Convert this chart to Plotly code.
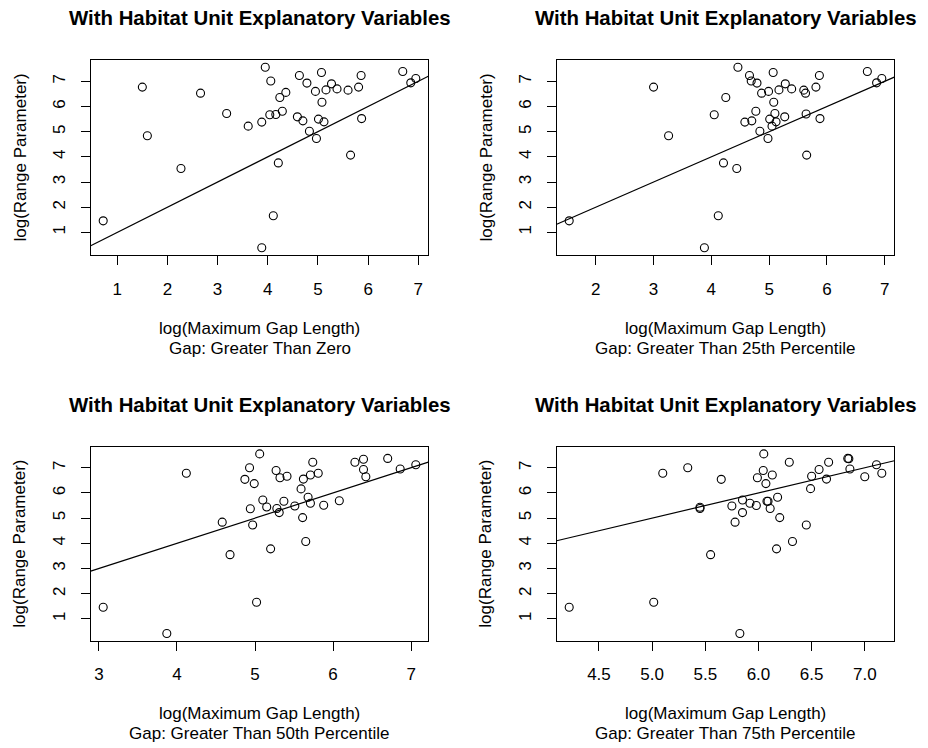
import plotly.graph_objects as go

# ---------------- data ----------------
x_gt0 = [0.72, 1.50, 1.60, 2.27, 2.66, 3.18, 3.61, 3.88, 3.95, 4.06, 4.04, 4.16, 4.29, 4.24,
         4.36, 4.21, 4.11, 3.88, 4.63, 4.78, 4.59, 4.70, 4.83, 4.97, 4.95, 5.07, 5.08, 5.01,
         5.12, 5.16, 5.27, 5.38, 5.60, 5.81, 5.86, 5.87, 5.65, 6.69, 6.85, 6.95]
y_gt0 = [1.46, 6.77, 4.84, 3.54, 6.53, 5.72, 5.22, 5.38, 7.56, 7.01, 5.67, 5.68, 5.81, 6.36,
         6.56, 3.76, 1.66, 0.39, 7.23, 6.93, 5.59, 5.43, 5.02, 4.73, 6.60, 7.35, 6.17, 5.50,
         5.39, 6.66, 6.90, 6.70, 6.65, 6.77, 7.23, 5.52, 4.07, 7.39, 6.94, 7.11]

x_gt25 = [1.54, 3.00, 3.26, 4.44, 4.25, 4.05, 4.58, 4.46, 4.69, 4.70, 4.77, 4.79, 4.66, 4.87,
          4.21, 4.12, 3.88, 4.84, 4.98, 4.99, 5.07, 5.08, 5.01, 5.10, 5.12, 5.05, 5.17, 5.28,
          5.27, 5.39, 5.60, 5.63, 5.64, 5.65, 5.81, 5.87, 5.88, 6.70, 6.86, 6.95]
y_gt25 = [1.46, 6.77, 4.84, 3.54, 6.36, 5.67, 5.38, 7.56, 7.01, 5.43, 5.81, 6.93, 7.23, 6.53,
          3.76, 1.66, 0.39, 5.02, 4.73, 6.60, 7.35, 6.17, 5.50, 5.72, 5.39, 5.22, 6.66, 6.90,
          5.59, 6.70, 6.65, 6.53, 5.70, 4.07, 6.77, 7.23, 5.52, 7.39, 6.94, 7.11]

x_gt50 = [3.055, 3.87, 4.12, 4.58, 4.68, 4.87, 4.93, 4.99, 4.94, 4.97, 5.02, 5.06, 5.10, 5.15,
          5.20, 5.27, 5.28, 5.31, 5.32, 5.37, 5.41, 5.51, 5.59, 5.61, 5.62, 5.65, 5.68, 5.71,
          5.71, 5.74, 5.81, 5.88, 6.08, 6.28, 6.39, 6.39, 6.42, 6.70, 6.86, 7.06]
y_gt50 = [1.46, 0.42, 6.78, 4.84, 3.55, 6.54, 7.00, 6.37, 5.37, 4.73, 1.66, 7.55, 5.72, 5.44,
          3.78, 6.89, 5.38, 5.22, 6.60, 5.67, 6.66, 5.48, 6.16, 5.02, 6.55, 4.07, 5.83, 5.59,
          6.71, 7.22, 6.78, 5.51, 5.69, 7.22, 7.34, 6.93, 6.64, 7.37, 6.95, 7.12]

x_gt75 = [4.22, 5.015, 5.10, 5.335, 5.45, 5.45, 5.55, 5.65, 5.75, 5.78, 5.825, 5.85, 5.85, 5.92,
          5.98, 5.99, 6.045, 6.05, 6.07, 6.08, 6.09, 6.11, 6.13, 6.17, 6.18, 6.20, 6.29, 6.32,
          6.45, 6.49, 6.50, 6.57, 6.64, 6.66, 6.84, 6.85, 6.86, 7.00, 7.11, 7.16]
y_gt75 = [1.46, 1.66, 6.78, 7.00, 5.43, 5.38, 3.55, 6.54, 5.48, 4.84, 0.42, 5.72, 5.22, 5.59,
          5.50, 6.60, 6.89, 7.55, 6.37, 5.67, 5.67, 5.38, 6.71, 3.78, 5.83, 5.02, 7.22, 4.07,
          4.73, 6.17, 6.66, 6.93, 6.55, 7.22, 7.37, 7.36, 6.95, 6.64, 7.12, 6.78]

panel_titles = ["With Habitat Unit Explanatory Variables"] * 4
x_label = "log(Maximum Gap Length)"
y_label = "log(Range Parameter)"
subtitles = ["Gap: Greater Than Zero", "Gap: Greater Than 25th Percentile",
             "Gap: Greater Than 50th Percentile", "Gap: Greater Than 75th Percentile"]
x_ticks = [[1, 2, 3, 4, 5, 6, 7], [2, 3, 4, 5, 6, 7], [3, 4, 5, 6, 7],
           [4.5, 5.0, 5.5, 6.0, 6.5, 7.0]]
x_ticktext = [None, None, None, ["4.5", "5.0", "5.5", "6.0", "6.5", "7.0"]]
y_ticks = [1, 2, 3, 4, 5, 6, 7]
ref_intercept = [0, 0, 0, 0]
ref_slope = [1, 1, 1, 1]

xs = [x_gt0, x_gt25, x_gt50, x_gt75]
ys = [y_gt0, y_gt25, y_gt50, y_gt75]

# ---------------- layout geometry ----------------
W, H = 928, 748
FONT = "Liberation Sans, Arial, Helvetica, sans-serif"
box_x = [(90.7, 428.3), (556.7, 894.3), (90.7, 428.3), (556.7, 894.3)]
box_y = [(60, 255), (60, 255), (446.7, 640.7), (446.7, 640.7)]


def rng(v):
    lo, hi = min(v), max(v)
    d = (hi - lo) * 0.04
    return [lo - d, hi + d]


fig = go.Figure()
annotations = []
for i in range(4):
    n = "" if i == 0 else str(i + 1)
    xa, ya = "x" + n, "y" + n
    xr, yr = rng(xs[i]), rng(ys[i])
    fig.add_trace(go.Scatter(
        x=xs[i], y=ys[i], mode="markers", xaxis=xa, yaxis=ya,
        marker=dict(symbol="circle-open", size=8, color="black", line=dict(width=1.1, color="black")),
        showlegend=False, hoverinfo="x+y"))
    lx = xr
    ly = [ref_intercept[i] + ref_slope[i] * v for v in lx]
    fig.add_trace(go.Scatter(
        x=lx, y=ly, mode="lines", xaxis=xa, yaxis=ya,
        line=dict(color="black", width=1.2), showlegend=False, hoverinfo="skip"))

    x0, x1 = box_x[i]
    y0, y1 = box_y[i]
    xd = [x0 / W, x1 / W]
    yd = [1 - y1 / H, 1 - y0 / H]
    axx = dict(domain=xd, range=xr, anchor=ya, showgrid=False, zeroline=False,
               showline=True, mirror=True, linecolor="black", linewidth=1.2,
               ticks="outside", ticklen=9, tickwidth=1.1, tickcolor="black",
               tickvals=x_ticks[i], ticklabelstandoff=9,
               tickfont=dict(family=FONT, size=17, color="black"))
    if x_ticktext[i] is not None:
        axx["ticktext"] = x_ticktext[i]
    axy = dict(domain=yd, range=yr, anchor=xa, showgrid=False, zeroline=False,
               showline=True, mirror=True, linecolor="black", linewidth=1.2,
               ticks="outside", ticklen=9, tickwidth=1.1, tickcolor="black",
               tickvals=y_ticks, tickangle=-90, ticklabelstandoff=9,
               tickfont=dict(family=FONT, size=17, color="black"))
    fig.update_layout(**{("xaxis" + n): axx, ("yaxis" + n): axy})

    cx = (x0 + x1) / 2 / W
    cy = 1 - (y0 + y1) / 2 / H
    annotations.append(dict(text="<b>" + panel_titles[i] + "</b>", x=cx, y=1 - (y0 - 42) / H,
                            xref="paper", yref="paper", showarrow=False, xanchor="center",
                            yanchor="middle", font=dict(family=FONT, size=20.4, color="black")))
    annotations.append(dict(text=x_label, x=cx, y=1 - (y1 + 73) / H, xref="paper", yref="paper",
                            showarrow=False, xanchor="center", yanchor="middle",
                            font=dict(family=FONT, size=17, color="black")))
    annotations.append(dict(text=subtitles[i], x=cx, y=1 - (y1 + 93) / H, xref="paper",
                            yref="paper", showarrow=False, xanchor="center", yanchor="middle",
                            font=dict(family=FONT, size=17, color="black")))
    annotations.append(dict(text=y_label, x=(x0 - 70.7) / W, y=cy, xref="paper", yref="paper",
                            showarrow=False, xanchor="center", yanchor="middle", textangle=-90,
                            font=dict(family=FONT, size=17, color="black")))

fig.update_layout(width=W, height=H, margin=dict(l=0, r=0, t=0, b=0),
                  paper_bgcolor="white", plot_bgcolor="white",
                  annotations=annotations, showlegend=False,
                  font=dict(family=FONT, color="black"))
fig.write_html("out.html")
